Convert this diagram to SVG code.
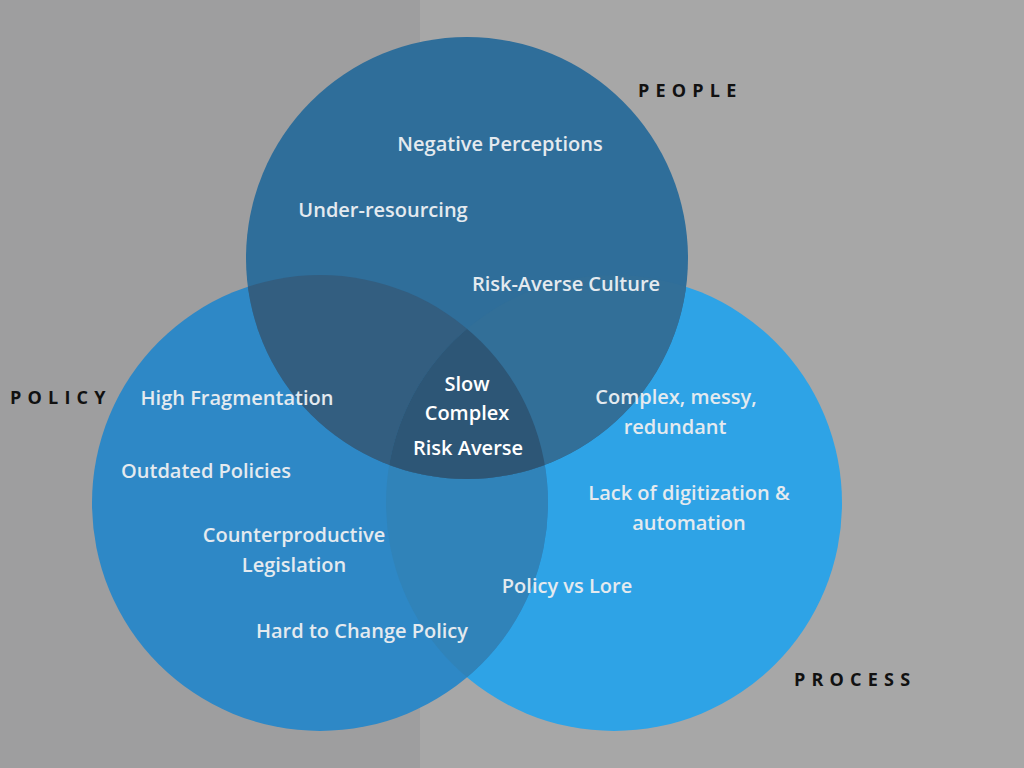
<svg xmlns="http://www.w3.org/2000/svg" width="1024" height="768" viewBox="0 0 1024 768">
<style>
.t{font-family:"Open Sans","Noto Sans","Liberation Sans",sans-serif;font-weight:600;font-size:20px;fill:#e4eaef;text-anchor:middle}
.c{fill:#ffffff}
.h{font-family:"Open Sans","Noto Sans","Liberation Sans",sans-serif;font-weight:700;font-size:18px;fill:#111;letter-spacing:6.2px}
</style>
<defs>
<clipPath id="cpPeople"><circle cx="467" cy="258" r="221"/></clipPath>
<clipPath id="cpPolicy"><circle cx="320" cy="503" r="228"/></clipPath>
<clipPath id="cpProcess"><circle cx="614" cy="503" r="228"/></clipPath>
</defs>
<rect x="0" y="0" width="1024" height="768" fill="#a7a7a7"/>
<rect x="0" y="0" width="420" height="768" fill="#9e9e9f"/>
<g id="process"><circle cx="614" cy="503" r="228" fill="#2ea3e6"/></g>
<g id="policy"><circle cx="320" cy="503" r="228" fill="#2e88c6"/></g>
<g id="people"><circle cx="467" cy="258" r="221" fill="#2f6e9a"/></g>
<g id="overlaps">
<g clip-path="url(#cpPolicy)"><circle cx="614" cy="503" r="228" fill="#3083b9"/></g>
<g clip-path="url(#cpPeople)"><circle cx="320" cy="503" r="228" fill="#335e80"/><circle cx="614" cy="503" r="228" fill="#326f98"/></g>
<g clip-path="url(#cpPeople)"><g clip-path="url(#cpPolicy)"><circle cx="614" cy="503" r="228" fill="#2d5676"/></g></g>
</g>
<g id="labels">
<text class="h" x="638" y="97">PEOPLE</text>
<text class="h" x="10" y="404">POLICY</text>
<text class="h" x="794" y="686">PROCESS</text>
<text class="t" x="500" y="151">Negative Perceptions</text>
<text class="t" x="383" y="217">Under-resourcing</text>
<text class="t" x="566" y="291">Risk-Averse Culture</text>
<text class="t" x="237" y="405">High Fragmentation</text>
<text class="t" x="206" y="478">Outdated Policies</text>
<text class="t" x="294" y="542">Counterproductive</text>
<text class="t" x="294" y="572">Legislation</text>
<text class="t" x="362" y="638">Hard to Change Policy</text>
<text class="t" x="676" y="404">Complex, messy,</text>
<text class="t" x="675" y="434">redundant</text>
<text class="t" x="689" y="500">Lack of digitization &amp;</text>
<text class="t" x="689" y="530">automation</text>
<text class="t" x="567" y="593">Policy vs Lore</text>
<text class="t c" x="467" y="391">Slow</text>
<text class="t c" x="467" y="420">Complex</text>
<text class="t c" x="468" y="455">Risk Averse</text>
</g>
</svg>
